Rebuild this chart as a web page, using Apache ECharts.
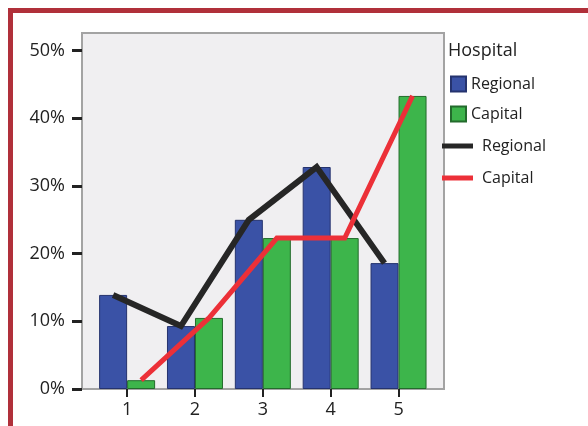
<!DOCTYPE html>
<html>
<head>
<meta charset="utf-8">
<script src="https://cdn.jsdelivr.net/npm/echarts@6/dist/echarts.min.js"></script>
<style>
    html, body {margin: 0; padding: 0; background: #fff;}
    #frame {position: absolute; left: 8px; top: 8px; width: 600px; height: 440px;
        border-top: 5px solid #b0303a; border-left: 5px solid #b0303a; box-sizing: border-box;}
    #chart {position: absolute; left: 0; top: 0; width: 588px; height: 426px;}
</style>
</head>
<body>
<div id="frame"></div>
<div id="chart"></div>
<script>
// data (percent of patients)
const categories = [1, 2, 3, 4, 5]
const regional = [13.9, 9.3, 25.0, 32.8, 18.6]
const capital = [1.3, 10.5, 22.3, 22.3, 43.3]
const yTicks = [0, 10, 20, 30, 40, 50]

// lines sit on the middle of their own bar
const LINE_SHIFT = 0.207

const font = "'Open Sans', 'Noto Sans', sans-serif"
const blue = '#3a52a6'
const green = '#3db54b'

const myChart = echarts.init(document.getElementById('chart'))
myChart.setOption({
    animation: false,
    textStyle: {fontFamily: font},
    title: {
        text: 'Hospital',
        left: 448,
        top: 42,
        padding: 0,
        textStyle: {fontSize: 18, fontWeight: 'normal', color: '#222', fontFamily: font},
    },
    legend: [
        {
            data: ['Regional', 'Capital'],
            orient: 'vertical',
            left: 450,
            top: 75,
            padding: 0,
            itemWidth: 15,
            itemHeight: 15,
            itemGap: 12,
            icon: 'rect',
            textStyle: {fontSize: 16, lineHeight: 18, color: '#222', fontFamily: font},
        },
        {
            data: ['Regional ', 'Capital '],
            orient: 'vertical',
            left: 442,
            top: 137,
            padding: 0,
            itemWidth: 31,
            itemHeight: 5,
            itemGap: 14,
            icon: 'rect',
            textStyle: {fontSize: 16, lineHeight: 18, color: '#222', fontFamily: font, padding: [0, 0, 0, 4]},
        },
    ],
    grid: {
        show: true,
        left: 82,
        top: 33,
        right: 144,
        bottom: 37,
        backgroundColor: '#f0eff1',
        borderColor: '#a3a3a3',
        borderWidth: 2,
    },
    xAxis: {
        type: 'value',
        min: 0.335,
        max: 5.67,
        axisLine: {lineStyle: {color: '#a3a3a3', width: 2}},
        axisTick: {
            show: true,
            length: 8,
            customValues: categories,
            lineStyle: {color: '#222', width: 2},
        },
        axisLabel: {
            customValues: categories,
            margin: 12,
            fontSize: 18,
            color: '#222',
            fontFamily: font,
        },
        splitLine: {show: false},
    },
    yAxis: {
        type: 'value',
        min: 0,
        max: 52.6,
        axisLine: {show: true, lineStyle: {color: '#a3a3a3', width: 2}},
        axisTick: {
            show: true,
            length: 10,
            customValues: yTicks,
            lineStyle: {color: '#222', width: 3},
        },
        axisLabel: {
            customValues: yTicks,
            formatter: '{value}%',
            margin: 17,
            fontSize: 18,
            color: '#222',
            fontFamily: font,
        },
        splitLine: {show: false},
    },
    series: [
        {
            name: 'Regional',
            type: 'bar',
            data: categories.map((c, i) => [c, regional[i]]),
            barWidth: 28,
            barGap: '0%',
            color: blue,
            itemStyle: {color: blue, borderColor: '#25336e', borderWidth: 1},
        },
        {
            name: 'Capital',
            type: 'bar',
            data: categories.map((c, i) => [c, capital[i]]),
            barWidth: 28,
            barGap: '0%',
            color: green,
            itemStyle: {color: green, borderColor: '#236b2c', borderWidth: 1},
        },
        {
            name: 'Regional ',
            type: 'line',
            data: categories.map((c, i) => [c - LINE_SHIFT, regional[i]]),
            color: '#262626',
            showSymbol: false,
            symbol: 'none',
            z: 3,
            lineStyle: {color: '#262626', width: 6, join: 'miter'},
        },
        {
            name: 'Capital ',
            type: 'line',
            data: categories.map((c, i) => [c + LINE_SHIFT, capital[i]]),
            color: '#ec3038',
            showSymbol: false,
            symbol: 'none',
            z: 4,
            lineStyle: {color: '#ec3038', width: 5, join: 'miter'},
        },
    ],
})
</script>
</body>
</html>
